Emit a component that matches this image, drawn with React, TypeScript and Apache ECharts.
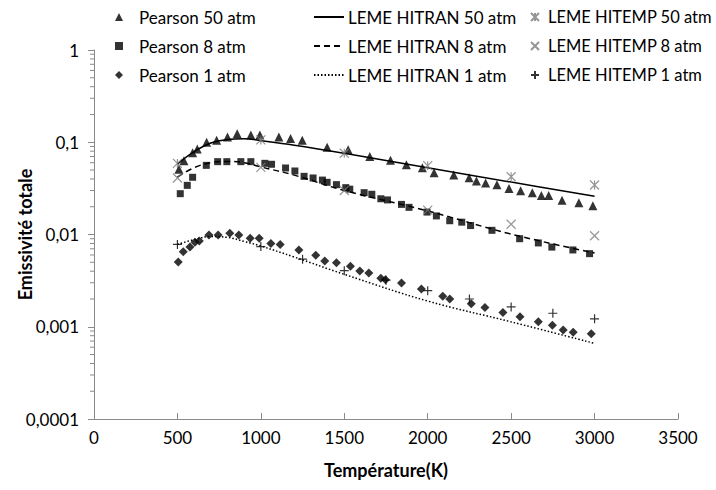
import React, { useEffect, useRef } from "react";
import * as echarts from "echarts";

const pearson50T = [509, 539, 591, 619, 675, 735, 800, 858, 940, 994, 1108, 1178, 1248, 1397, 1523, 1653, 1777, 1872, 1968, 2038, 2156, 2248, 2292, 2347, 2415, 2487, 2557, 2627, 2681, 2725, 2805, 2906, 2990];
const pearson50V = [0.051, 0.063, 0.077, 0.0845, 0.0997, 0.105, 0.114, 0.124, 0.12, 0.12, 0.114, 0.11, 0.105, 0.088, 0.083, 0.07, 0.064, 0.057, 0.053, 0.0468, 0.0442, 0.0413, 0.038, 0.0361, 0.0347, 0.0316, 0.0298, 0.0284, 0.0264, 0.0264, 0.0235, 0.0221, 0.0205];

const pearson8T = [517, 559, 591, 673, 741, 796, 880, 940, 1024, 1064, 1148, 1204, 1259, 1313, 1369, 1397, 1453, 1509, 1533, 1619, 1665, 1719, 1759, 1843, 1888, 1996, 2052, 2132, 2204, 2257, 2385, 2551, 2663, 2744, 2870, 2970];
const pearson8V = [0.0277, 0.0341, 0.0417, 0.0562, 0.0616, 0.0616, 0.0616, 0.0616, 0.0591, 0.0577, 0.0526, 0.0488, 0.0427, 0.041, 0.0389, 0.0368, 0.0347, 0.0322, 0.031, 0.0284, 0.0273, 0.0244, 0.0237, 0.0212, 0.0197, 0.0175, 0.0159, 0.0141, 0.0136, 0.0125, 0.0111, 0.009, 0.0081, 0.0073, 0.0068, 0.0062];

const pearson1T = [505, 535, 575, 605, 631, 689, 744, 814, 868, 936, 990, 1060, 1116, 1228, 1329, 1383, 1453, 1537, 1593, 1647, 1719, 1747, 1843, 1962, 2090, 2132, 2261, 2343, 2451, 2553, 2663, 2747, 2812, 2872, 2980];
const pearson1V = [0.00503, 0.00651, 0.00731, 0.00823, 0.0085, 0.0099, 0.0099, 0.0103, 0.0099, 0.0091, 0.0091, 0.008, 0.0078, 0.0068, 0.00594, 0.00516, 0.00495, 0.00452, 0.00402, 0.00383, 0.00335, 0.00323, 0.00298, 0.00257, 0.00214, 0.002, 0.00177, 0.00162, 0.00143, 0.00128, 0.00113, 0.00104, 0.00092, 0.00087, 0.00084];

const hitranT = [500, 600, 700, 800, 900, 1000, 1200, 1500, 2000, 2500, 3000];
const hitran50V = [0.058, 0.079, 0.098, 0.107, 0.109, 0.104, 0.093, 0.076, 0.053, 0.037, 0.026];
const hitran8V = [0.042, 0.053, 0.06, 0.062, 0.06, 0.054, 0.044, 0.03, 0.018, 0.0101, 0.0063];
const hitran1V = [0.0078, 0.0088, 0.0095, 0.0093, 0.0084, 0.0075, 0.0057, 0.0037, 0.0019, 0.00113, 0.00066];

const hitempT = [500, 1000, 1500, 2000, 2500, 3000];
const hitemp50V = [0.059, 0.106, 0.076, 0.0557, 0.0423, 0.0344];
const hitemp8V = [0.041, 0.0535, 0.03, 0.0184, 0.0129, 0.0097];
const hitemp1T = [500, 1000, 1250, 1500, 1750, 2000, 2250, 2500, 2750, 3000];
const hitemp1V = [0.0078, 0.0074, 0.0054, 0.00405, 0.0032, 0.00246, 0.002, 0.00164, 0.0014, 0.00122];

const minorTickValues = [1e-4, 1e-3, 1e-2, 1e-1].flatMap((d) => [2, 3, 4, 5, 6, 7, 8, 9].map((m) => m * d));

const zip = (xs: number[], ys: number[]) => xs.map((x, i) => [x, ys[i]]);

const FONT = "Lato";
const AXIS_COLOR = "#8a8a8a";

export default function App() {
  const ref = useRef<HTMLDivElement>(null);
  useEffect(() => {
    const chart = echarts.init(ref.current!, null, { renderer: "svg" });
    const legendText = { fontFamily: FONT, fontSize: 17, color: "#000", lineHeight: 20 };
    const option: any = {
      animation: false,
      backgroundColor: "#fff",
      grid: { left: 94, right: 38, top: 50, bottom: 71, containLabel: false, outerBoundsMode: "none" },
      legend: [
        {
          orient: "vertical",
          left: 110,
          top: 2,
          itemGap: 9,
          itemWidth: 8,
          itemHeight: 8,
          textStyle: { ...legendText, padding: [0, 0, 0, 11] },
          data: [
            { name: "Pearson 50 atm", icon: "triangle" },
            { name: "Pearson 8 atm", icon: "rect" },
            { name: "Pearson 1 atm", icon: "diamond" },
          ],
        },
        {
          orient: "vertical",
          left: 308,
          top: 2,
          itemGap: 9,
          itemWidth: 30,
          itemHeight: 8,
          itemStyle: { opacity: 0 },
          textStyle: { ...legendText, padding: [0, 0, 0, -1] },
          data: ["LEME HITRAN 50 atm", "LEME HITRAN 8 atm", "LEME HITRAN 1 atm"],
        },
        {
          orient: "vertical",
          left: 525,
          top: 2,
          itemGap: 9,
          itemWidth: 8,
          itemHeight: 8,
          textStyle: { ...legendText, fontSize: 16.5, padding: [0, 0, 0, 4] },
          data: ["LEME HITEMP 50 atm", "LEME HITEMP 8 atm", "LEME HITEMP 1 atm"],
        },
      ],
      xAxis: {
        type: "value",
        min: 0,
        max: 3500,
        interval: 500,
        name: "Température(K)",
        nameLocation: "middle",
        nameGap: 42,
        nameMoveOverlap: false,
        nameTextStyle: { fontFamily: FONT, fontSize: 18, fontWeight: "bold", color: "#000" },
        axisLine: { lineStyle: { color: AXIS_COLOR, width: 1 } },
        axisTick: { inside: true, length: 6, lineStyle: { color: AXIS_COLOR } },
        axisLabel: { fontFamily: FONT, fontSize: 17, color: "#000", margin: 10, formatter: (v: number) => String(v) },
        splitLine: { show: false },
      },
      yAxis: {
        type: "log",
        logBase: 10,
        min: 0.0001,
        max: 1,
        name: "Emissivité totale",
        nameLocation: "middle",
        nameGap: 60,
        nameMoveOverlap: false,
        nameTextStyle: { fontFamily: FONT, fontSize: 18, fontWeight: "bold", color: "#000" },
        axisLine: { show: true, lineStyle: { color: AXIS_COLOR, width: 1 } },
        axisTick: { show: true, length: 6, lineStyle: { color: AXIS_COLOR } },
        axisLabel: {
          fontFamily: FONT,
          fontSize: 17,
          color: "#000",
          margin: 15,
          formatter: (v: number) => String(v).replace(".", ","),
        },
        splitLine: { show: false },
      },
      series: [
        {
          name: "minor",
          type: "custom",
          silent: true,
          clip: false,
          data: minorTickValues.map((v) => [0, v]),
          renderItem: (params: any, api: any) => {
            const p = api.coord([0, api.value(1)]);
            return {
              type: "line",
              shape: { x1: p[0] - 4, y1: p[1], x2: p[0], y2: p[1] },
              style: { stroke: AXIS_COLOR, lineWidth: 1 },
            };
          },
          z: 1,
        },
        {
          name: "LEME HITRAN 50 atm",
          type: "line",
          smooth: 0.4,
          symbol: "none",
          data: zip(hitranT, hitran50V),
          lineStyle: { color: "#000", width: 1.5, type: "solid" },
          itemStyle: { color: "#000" },
          z: 2,
        },
        {
          name: "LEME HITRAN 8 atm",
          type: "line",
          smooth: 0.4,
          symbol: "none",
          data: zip(hitranT, hitran8V),
          lineStyle: { color: "#000", width: 1.5, type: [6, 4] },
          itemStyle: { color: "#000" },
          z: 2,
        },
        {
          name: "LEME HITRAN 1 atm",
          type: "line",
          smooth: 0.4,
          symbol: "none",
          data: zip(hitranT, hitran1V),
          lineStyle: { color: "#000", width: 1.5, type: [1.5, 2] },
          itemStyle: { color: "#000" },
          z: 2,
        },
        {
          name: "Pearson 50 atm",
          type: "scatter",
          symbol: "triangle",
          symbolSize: 9,
          data: zip(pearson50T, pearson50V),
          itemStyle: { color: "#000" },
          z: 3,
        },
        {
          name: "Pearson 8 atm",
          type: "scatter",
          symbol: "rect",
          symbolSize: 7,
          data: zip(pearson8T, pearson8V),
          itemStyle: { color: "#000" },
          z: 3,
        },
        {
          name: "Pearson 1 atm",
          type: "scatter",
          symbol: "diamond",
          symbolSize: 9,
          data: zip(pearson1T, pearson1V),
          itemStyle: { color: "#000" },
          z: 3,
        },
        {
          name: "LEME HITEMP 50 atm",
          type: "scatter",
          symbol: "path://M0,0L10,10M10,0L0,10M5,0L5,10",
          symbolSize: 9,
          data: zip(hitempT, hitemp50V),
          itemStyle: { color: "#7a7a7a", borderColor: "#7a7a7a", borderWidth: 1.2 },
          z: 4,
        },
        {
          name: "LEME HITEMP 8 atm",
          type: "scatter",
          symbol: "path://M0,0L10,10M10,0L0,10",
          symbolSize: 9,
          data: zip(hitempT, hitemp8V),
          itemStyle: { color: "#7a7a7a", borderColor: "#7a7a7a", borderWidth: 1.2 },
          z: 4,
        },
        {
          name: "LEME HITEMP 1 atm",
          type: "scatter",
          symbol: "path://M5,0L5,10M0,5L10,5",
          symbolSize: 9,
          data: zip(hitemp1T, hitemp1V),
          itemStyle: { color: "#000", borderColor: "#000", borderWidth: 1.2 },
          z: 4,
        },
      ],
    };
    chart.setOption(option);
    return () => chart.dispose();
  }, []);
  return <div ref={ref} style={{ width: 716, height: 490, position: "fixed", left: 0, top: 0 }} />;
}
